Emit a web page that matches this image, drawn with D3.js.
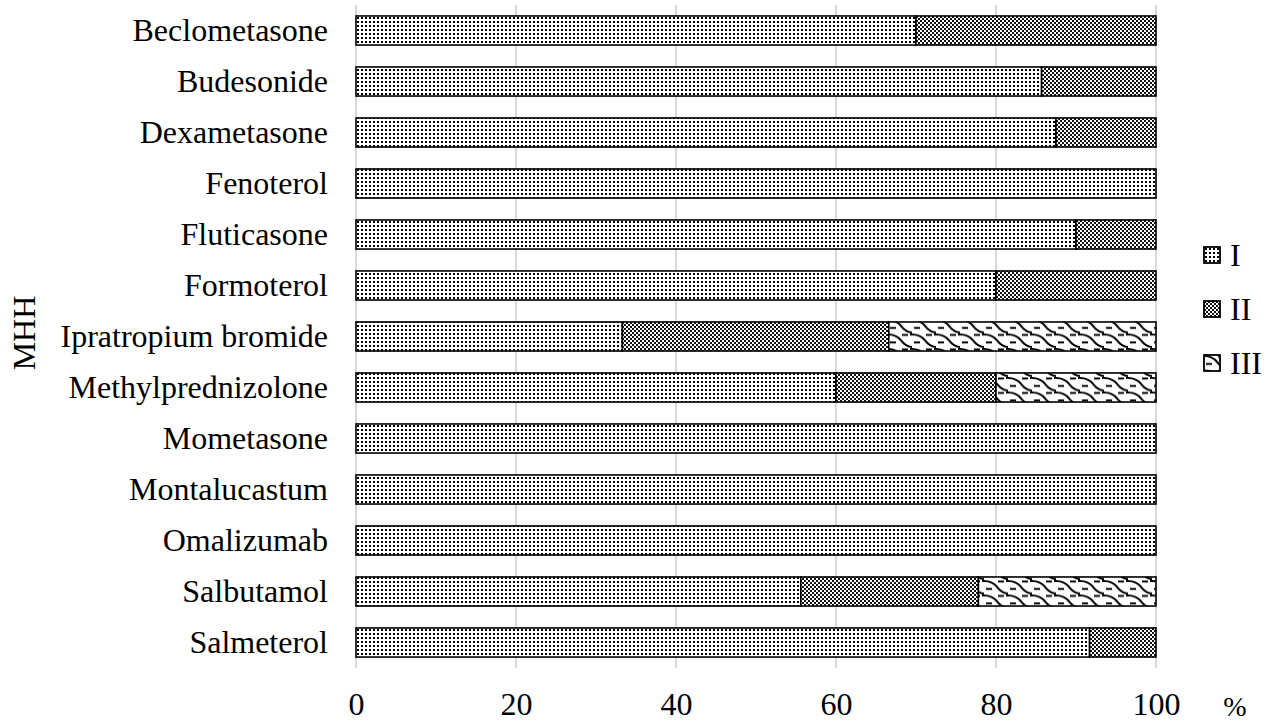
<!DOCTYPE html>
<html>
<head>
<meta charset="utf-8">
<script src="https://cdn.jsdelivr.net/npm/d3@7/dist/d3.min.js"></script>
<style>
  html, body { margin: 0; padding: 0; background: #fff; }
  svg { display: block; font-family: "Liberation Serif", "Times New Roman", serif; }
</style>
</head>
<body>
<svg id="chart" width="1268" height="722"></svg>
<script>
// Drug names, top to bottom
const drugs = [
  "Beclometasone", "Budesonide", "Dexametasone", "Fenoterol", "Fluticasone",
  "Formoterol", "Ipratropium bromide", "Methylprednizolone", "Mometasone",
  "Montalucastum", "Omalizumab", "Salbutamol", "Salmeterol"
];
// Share (%) of each group per drug
const groupI   = [70, 85.7, 87.5, 100, 90, 80, 33.3, 60, 100, 100, 100, 55.6, 91.7];
const groupII  = [30, 14.3, 12.5, 0, 10, 20, 33.3, 20, 0, 0, 0, 22.2, 8.3];
const groupIII = [0, 0, 0, 0, 0, 0, 33.4, 20, 0, 0, 0, 22.2, 0];
const groupNames = ["I", "II", "III"];
const xTicks = [0, 20, 40, 60, 80, 100];

const svg = d3.select("#chart");
const margin = { top: 5, left: 356 };
const innerW = 1156 - margin.left;
const innerH = 668 - margin.top;

// Fill patterns
const defs = svg.append("defs");
const pI = defs.append("pattern").attr("id", "pat-I").attr("patternUnits", "userSpaceOnUse")
  .attr("width", 4).attr("height", 4);
pI.append("rect").attr("width", 4).attr("height", 4).attr("fill", "#fff");
pI.append("rect").attr("x", 1).attr("y", 1).attr("width", 2).attr("height", 2).attr("fill", "#000");

const pII = defs.append("pattern").attr("id", "pat-II").attr("patternUnits", "userSpaceOnUse")
  .attr("width", 4).attr("height", 4);
pII.append("rect").attr("width", 4).attr("height", 4).attr("fill", "#fff");
pII.append("rect").attr("x", 0).attr("y", 0).attr("width", 2).attr("height", 2).attr("fill", "#111");
pII.append("rect").attr("x", 2).attr("y", 2).attr("width", 2).attr("height", 2).attr("fill", "#111");

const pIII = defs.append("pattern").attr("id", "pat-III").attr("patternUnits", "userSpaceOnUse")
  .attr("width", 24).attr("height", 14.5);
pIII.append("rect").attr("width", 24).attr("height", 14.5).attr("fill", "#fff");
pIII.append("path")
  .attr("d", "M0,1 C7,1 10,3 13,7 S19,13.5 24,13.5 M2,9 h6 M14,1.5 h6 M24,1 l-2,0")
  .attr("fill", "none").attr("stroke", "#000").attr("stroke-width", 2);
const fills = ["url(#pat-I)", "url(#pat-II)", "url(#pat-III)"];

const x = d3.scaleLinear().domain([0, 100]).range([margin.left, margin.left + innerW]);
const y = d3.scaleBand().domain(drugs).range([margin.top, margin.top + innerH]).paddingInner(0.43).paddingOuter(0.215);

// Vertical gridlines
svg.append("g").selectAll("line").data(xTicks).join("line")
  .attr("x1", d => x(d)).attr("x2", d => x(d))
  .attr("y1", margin.top).attr("y2", margin.top + innerH)
  .attr("stroke", "#d9d9d9").attr("stroke-width", 2);

// Stacked bars
const rows = drugs.map((d, i) => ({ drug: d, I: groupI[i], II: groupII[i], III: groupIII[i] }));
const stack = d3.stack().keys(groupNames)(rows);
svg.append("g").selectAll("g").data(stack).join("g")
  .attr("fill", (d, i) => fills[i])
  .selectAll("rect").data(d => d.filter(s => s[1] - s[0] > 0)).join("rect")
  .attr("x", d => x(d[0])).attr("width", d => x(d[1]) - x(d[0]))
  .attr("y", d => y(d.data.drug)).attr("height", y.bandwidth())
  .attr("stroke", "#000").attr("stroke-width", 1.6);

// Category labels
const yAxis = svg.append("g").attr("transform", `translate(${margin.left},0)`)
  .call(d3.axisLeft(y).tickSize(0).tickPadding(28));
yAxis.select(".domain").remove();
yAxis.selectAll("text").attr("font-size", 32).attr("font-family", "Liberation Serif").attr("fill", "#000");

// Value axis labels
const xAxis = svg.append("g").attr("transform", `translate(0,${margin.top + innerH})`)
  .call(d3.axisBottom(x).tickValues(xTicks).tickSize(0).tickPadding(24));
xAxis.select(".domain").remove();
xAxis.selectAll("text").attr("font-size", 32).attr("font-family", "Liberation Serif").attr("fill", "#000");

svg.append("text").attr("x", 1235).attr("y", 716).attr("text-anchor", "middle")
  .attr("font-size", 28).text("%");

// Axis title
svg.append("text").attr("transform", `translate(35,333) rotate(-90)`)
  .attr("text-anchor", "middle").attr("font-size", 32).text("MHH");

// Legend
const legend = svg.append("g").selectAll("g").data(groupNames).join("g")
  .attr("transform", (d, i) => `translate(1204,${247 + i * 54})`);
legend.append("rect").attr("width", 16).attr("height", 16)
  .attr("fill", (d, i) => fills[i]).attr("stroke", "#000").attr("stroke-width", 1.8);
legend.append("text").attr("x", 26).attr("y", 19).attr("font-size", 32).text(d => d);
</script>
</body>
</html>
